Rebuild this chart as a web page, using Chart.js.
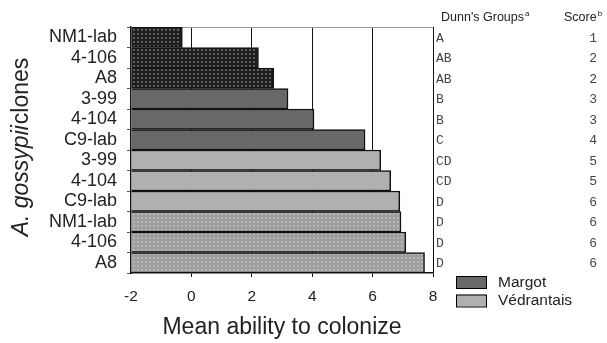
<!DOCTYPE html>
<html>
<head>
<meta charset="utf-8">
<script src="https://cdn.jsdelivr.net/npm/chart.js@4/dist/chart.umd.min.js"></script>
<style>
  html, body { margin: 0; padding: 0; background: #fff; }
  #wrap { width: 607px; height: 343px; }
</style>
</head>
<body>
<div id="wrap"><canvas id="chart"></canvas></div>
<script>
const clones = ['NM1-lab', '4-106', 'A8', '3-99', '4-104', 'C9-lab', '3-99', '4-104', 'C9-lab', 'NM1-lab', '4-106', 'A8'];
const colonize = [-0.3, 2.22, 2.73, 3.2, 4.06, 5.75, 6.27, 6.6, 6.9, 6.94, 7.1, 7.72];
const dunnGroups = ['A', 'AB', 'AB', 'B', 'B', 'C', 'CD', 'CD', 'D', 'D', 'D', 'D'];
const scores = [1, 2, 2, 3, 3, 4, 5, 5, 6, 6, 6, 6];
// which fill each bar uses
const fills = ['darkDots', 'darkDots', 'darkDots', 'margot', 'margot', 'margot',
  'vedrantais', 'vedrantais', 'vedrantais', 'lightDots', 'lightDots', 'lightDots'];
const xTicks = [-2, 0, 2, 4, 6, 8];
const legendItems = ['Margot', 'Védrantais'];

const FONT = '"Liberation Sans", Arial, sans-serif';
const MONO = '"Liberation Mono", "Courier New", monospace';

function dotPattern(base, dot) {
  const c = document.createElement('canvas');
  c.width = 4; c.height = 4;
  const g = c.getContext('2d');
  g.fillStyle = base;
  g.fillRect(0, 0, 4, 4);
  g.fillStyle = dot;
  g.fillRect(1, 1, 2, 2);
  return g.createPattern(c, 'repeat');
}

const ctx = document.getElementById('chart').getContext('2d');
const palette = {
  darkDots: dotPattern('#1d1d1d', '#5e5e5e'),
  margot: '#686868',
  vedrantais: '#b0b0b0',
  lightDots: dotPattern('#9f9f9f', '#b6b6b6')
};

const extras = {
  id: 'extras',
  beforeDatasetsDraw(chart) {
    const { ctx, chartArea: a } = chart;
    ctx.save();
    // top frame line
    ctx.strokeStyle = '#999';
    ctx.lineWidth = 1;
    ctx.beginPath();
    ctx.moveTo(a.left, a.top + 0.5);
    ctx.lineTo(a.right, a.top + 0.5);
    ctx.stroke();
    ctx.restore();
  },
  afterDraw(chart) {
    const { ctx, chartArea: a } = chart;
    const y = chart.scales.y;
    ctx.save();

    // y axis title, genus name in italics
    ctx.translate(22, (a.top + a.bottom) / 2 - 3);
    ctx.rotate(-Math.PI / 2);
    ctx.fillStyle = '#222';
    ctx.textBaseline = 'middle';
    ctx.font = 'italic 23px ' + FONT;
    const p1 = 'A. gossypii';
    const w1 = ctx.measureText(p1).width;
    ctx.font = '23px ' + FONT;
    const p2 = 'clones';
    const w2 = ctx.measureText(p2).width;
    let sx = -(w1 + w2 + 1) / 2;
    ctx.font = 'italic 23px ' + FONT;
    ctx.fillText(p1, sx, 0);
    ctx.font = '23px ' + FONT;
    ctx.fillText(p2, sx + w1 + 1, 0);
    ctx.setTransform(1, 0, 0, 1, 0, 0);

    // table headers
    ctx.fillStyle = '#222';
    ctx.textBaseline = 'alphabetic';
    ctx.textAlign = 'left';
    ctx.font = '12.5px ' + FONT;
    ctx.fillText("Dunn's Groups", 441, 21);
    let hw = ctx.measureText("Dunn's Groups").width;
    ctx.font = '8px ' + FONT;
    ctx.fillText('a', 441 + hw + 1, 16);
    ctx.font = '12.5px ' + FONT;
    ctx.fillText('Score', 564, 21);
    hw = ctx.measureText('Score').width;
    ctx.font = '8px ' + FONT;
    ctx.fillText('b', 564 + hw + 1, 16);

    // table rows
    ctx.font = '13px ' + MONO;
    ctx.fillStyle = '#444';
    ctx.textBaseline = 'middle';
    dunnGroups.forEach((g, i) => {
      const py = y.getPixelForValue(i) + 1;
      ctx.textAlign = 'left';
      ctx.fillText(g, 436, py);
      ctx.textAlign = 'right';
      ctx.fillText(String(scores[i]), 597, py);
    });

    // legend
    const legFill = [palette.margot, palette.vedrantais];
    legendItems.forEach((t, i) => {
      const by = 276 + i * 18.5;
      ctx.fillStyle = legFill[i];
      ctx.fillRect(456, by, 31, 12);
      ctx.strokeStyle = '#000';
      ctx.lineWidth = 1;
      ctx.strokeRect(456.5, by + 0.5, 30, 12);
      ctx.fillStyle = '#222';
      ctx.font = '15.5px ' + FONT;
      ctx.textAlign = 'left';
      ctx.textBaseline = 'middle';
      ctx.fillText(t, 498, by + 6.5);
    });
    ctx.restore();
  }
};

new Chart(ctx, {
  type: 'bar',
  data: {
    labels: clones,
    datasets: [{
      data: colonize,
      base: -2,
      backgroundColor: fills.map(f => palette[f]),
      borderColor: '#111',
      borderWidth: 1.5,
      barPercentage: 1,
      categoryPercentage: 1
    }]
  },
  options: {
    indexAxis: 'y',
    responsive: true,
    maintainAspectRatio: false,
    animation: false,
    layout: { padding: { left: 0, top: 27, right: 174, bottom: 0 } },
    plugins: {
      legend: { display: false },
      tooltip: { enabled: false }
    },
    scales: {
      x: {
        type: 'linear',
        min: -2,
        max: 8,
        afterFit: s => { s.height = 70; },
        afterBuildTicks: s => { s.ticks = xTicks.map(v => ({ value: v })); },
        ticks: {
          color: '#222',
          font: { family: FONT, size: 15.5 },
          padding: 10,
          maxRotation: 0
        },
        grid: {
          color: c => (c.tick && c.tick.value === -2) ? 'rgba(0,0,0,0)' : '#111',
          lineWidth: 1,
          tickLength: 4
        },
        border: { display: true, color: '#111', width: 1.5 },
        title: {
          display: true,
          text: 'Mean ability to colonize',
          color: '#222',
          font: { family: FONT, size: 23 },
          padding: { top: 0, bottom: 2 }
        }
      },
      y: {
        afterFit: s => { s.width = 131; },
        ticks: {
          color: '#222',
          font: { family: FONT, size: 18 },
          padding: 10,
          autoSkip: false
        },
        grid: {
          drawOnChartArea: false,
          color: '#555',
          tickLength: 4
        },
        border: { display: true, color: '#111', width: 1.5 }
      }
    }
  },
  plugins: [extras]
});
</script>
</body>
</html>
